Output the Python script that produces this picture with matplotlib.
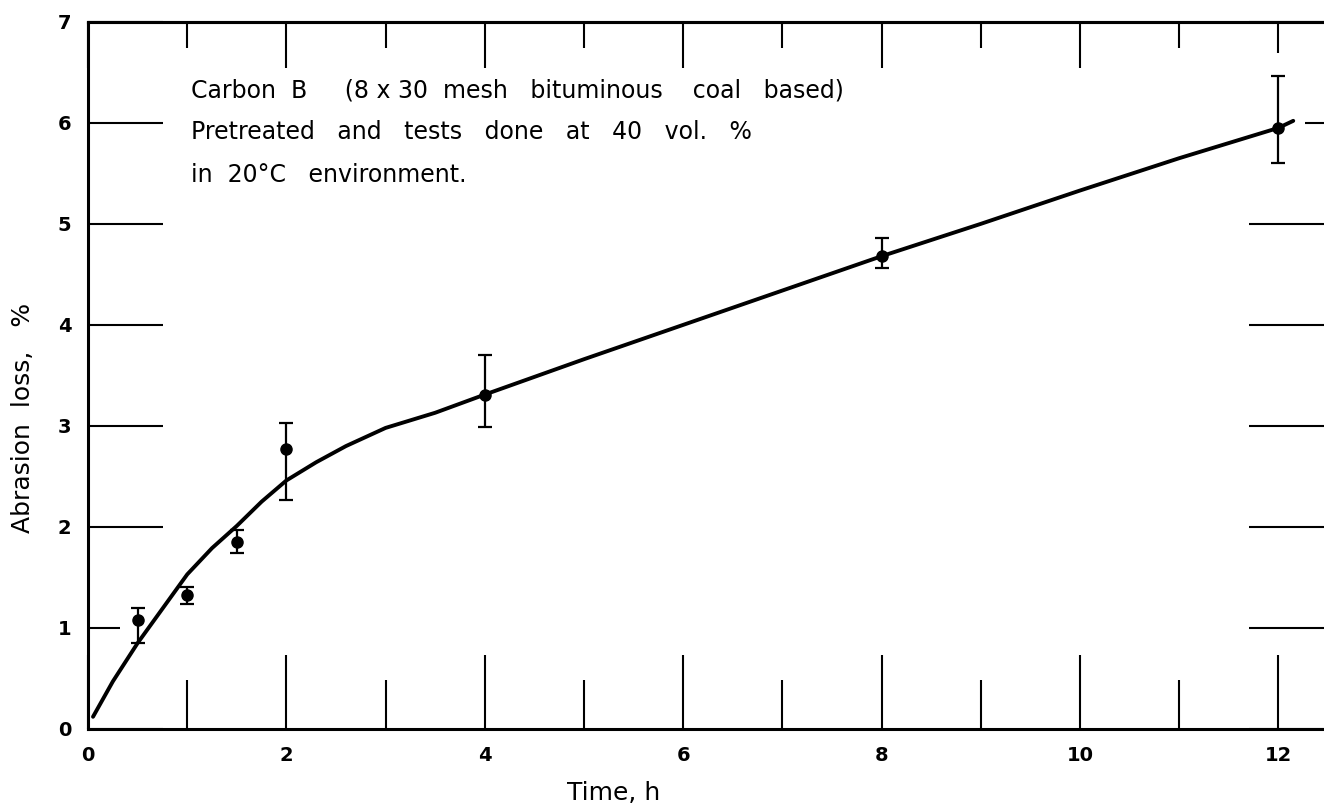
import matplotlib
matplotlib.use('Agg')
import matplotlib.pyplot as plt
from matplotlib.ticker import MultipleLocator

# Measured points (time in h, abrasion loss in %)
time_h = [0.5, 1.0, 1.5, 2.0, 4.0, 8.0, 12.0]
loss = [1.08, 1.33, 1.85, 2.77, 3.31, 4.68, 5.95]
err_low = [0.23, 0.09, 0.11, 0.50, 0.32, 0.12, 0.35]
err_high = [0.12, 0.07, 0.12, 0.26, 0.39, 0.18, 0.51]

# Fitted curve
curve_x = [0.05, 0.25, 0.5, 0.75, 1.0, 1.25, 1.5, 1.75, 2.0, 2.3, 2.6,
           3.0, 3.5, 4.0, 5.0, 6.0, 7.0, 8.0, 9.0, 10.0, 11.0, 12.0, 12.15]
curve_y = [0.12, 0.47, 0.85, 1.19, 1.53, 1.79, 2.01, 2.25, 2.46, 2.64, 2.80,
           2.98, 3.13, 3.31, 3.66, 4.00, 4.34, 4.68, 5.00, 5.33, 5.65, 5.95, 6.02]

xticks = [0, 2, 4, 6, 8, 10, 12]
yticks = [0, 1, 2, 3, 4, 5, 6, 7]

plt.rcParams['font.family'] = ['DejaVu Sans']

fig = plt.figure(figsize=(13.24, 8.09), dpi=100)
ax = fig.add_axes([0.0665, 0.099, 0.9335, 0.874])

ax.plot(curve_x, curve_y, color='black', lw=2.8, solid_capstyle='round')
ax.errorbar(time_h, loss, yerr=[err_low, err_high], fmt='o', color='black',
            ms=8, elinewidth=1.6, capsize=5, capthick=1.6)

ax.set_xlim(0, 12.46)
ax.set_ylim(0, 7)

for side in ['left', 'bottom', 'top']:
    ax.spines[side].set_linewidth(2.2)
ax.spines['right'].set_visible(False)

# bottom ticks: long at even hours, shorter at odd hours
ax.set_xticks(xticks)
ax.set_xticklabels([str(t) for t in xticks], fontsize=14, fontweight='bold')
ax.xaxis.set_minor_locator(MultipleLocator(1))
ax.tick_params(axis='x', which='major', direction='in', length=53, width=1.5,
               pad=12, top=False)
ax.tick_params(axis='x', which='minor', direction='in', length=35, width=1.5,
               top=False)

# y ticks on both sides
ax.set_yticks(yticks)
ax.set_yticklabels([str(t) for t in yticks], fontsize=14, fontweight='bold')
ax.tick_params(axis='y', which='major', direction='in', length=54, width=1.5,
               pad=12, right=True)
ax.yaxis.get_major_ticks()[1].tick1line.set_markersize(23)
ax.yaxis.get_major_ticks()[6].tick2line.set_markersize(14)

# top ticks are shorter than the bottom ones
top = ax.secondary_xaxis('top')
top.set_xticks(xticks)
top.xaxis.set_minor_locator(MultipleLocator(1))
top.tick_params(axis='x', which='major', direction='in', length=33, width=1.5,
                labeltop=False)
top.tick_params(axis='x', which='minor', direction='in', length=19, width=1.5)
top.spines['top'].set_linewidth(2.2)
top.xaxis.get_major_ticks()[6].tick2line.set_markersize(22)

ax.set_xlabel('Time, h', fontsize=18)
ax.xaxis.set_label_coords(0.425, -0.074)
ax.set_ylabel('Abrasion  loss,   %', fontsize=18)
ax.yaxis.set_label_coords(-0.043, 0.44)

ax.text(0.083, 0.92,
        'Carbon  B     (8 x 30  mesh   bituminous    coal   based)\n'
        'Pretreated   and   tests   done   at   40   vol.   %\n'
        'in  20°C   environment.',
        transform=ax.transAxes, fontsize=17, va='top', ha='left',
        linespacing=1.95)

fig.savefig('out.png', dpi=100)
